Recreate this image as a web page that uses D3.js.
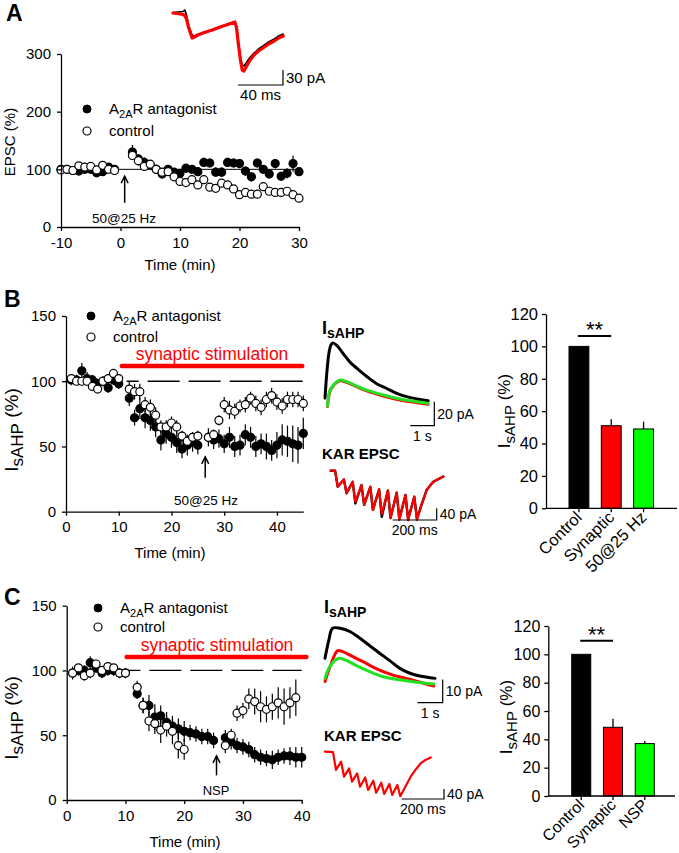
<!DOCTYPE html>
<html><head><meta charset="utf-8">
<script src="https://cdn.jsdelivr.net/npm/d3@7"></script>
<style>
body{margin:0;background:#fff;}
svg{display:block;}
</style></head><body>
<svg id="fig" width="679" height="853"></svg>
<script>
// ---------------- DATA ----------------
// Panel A: EPSC time course (min, %)
const timeA = [-10,-9,-8,-7,-6,-5,-4,-3,-2,-1,2,3,4,5,6,7,8,9,10,11,12,13,14,15,16,17,18,19,20,21,22,23,24,25,26,27,28,29,30];
const ctrlA = [99,100,98,106,104,105,99,107,100,98,124,115,105,109,100,95,96,87,79,77,82,73,82,69,67,76,73,66,56,60,57,57,70,62,60,60,62,56,50];
const ctrlAerr = [3,3,3,4,3,3,4,4,3,3,8,9,7,6,7,7,6,5,6,6,6,6,5,6,5,6,6,5,5,5,5,5,5,5,5,5,5,5,4];
const a2aA = [100,100,98,97,100,100,94,96,104,100,130,118,112,108,100,92,100,95,93,102,100,96,112,111,95,95,112,111,110,97,87,111,100,92,110,88,93,110,96];
const a2aAerr = [4,4,4,4,4,4,4,4,5,4,12,8,9,8,8,8,7,6,7,7,6,7,8,8,8,8,8,8,8,8,8,8,7,8,8,8,9,14,7];
// Panel A inset trace (ms, pA)
const trA_t = [0,9,10.5,12,14,17,19,22,28,35,42,50,55,56.5,58,60,61.5,63,65,68,72,76,80,85,90,94,98];
const trA_red = [0,-3,-5,-12,-30,-50,-48,-44,-39,-34,-28,-22,-18,-30,-60,-95,-114,-116,-108,-96,-84,-76,-70,-62,-56,-50,-46];
const trA_blk = [1,3,6,-4,-26,-44,-46,-43,-38,-33,-27,-21,-17,-28,-56,-90,-104,-106,-100,-90,-80,-72,-66,-58,-52,-46,-42];

// Panel B: IsAHP time course
const timeB = [1,2,3,4,5,6,7,8,9,10,12,13,14,15,16,17,18,19,20,21,22,23,24,25,27,28,29,30,31,32,33,34,35,36,37,38,39,40,41,42,43,44,45];
const ctrlB = [102,100,100,100,96,94,100,102,106,102,94,92,92,82,80,74,65,65,68,65,58,54,57,58,57,59,70,82,78,77,81,82,87,83,80,86,89,84,81,86,86,86,83];
const ctrlBerr = [3,3,3,3,3,3,3,3,3,3,6,6,6,6,6,6,5,5,5,5,4,4,4,4,4,4,4,6,7,6,5,6,5,6,6,6,6,6,6,6,6,6,6];
const a2aB = [101,101,108,102,101,98,100,95,101,98,87,72,79,72,70,65,55,60,57,53,48,51,53,51,57,55,56,52,57,50,51,59,57,50,52,50,47,51,55,54,52,51,60];
const a2aBerr = [4,4,6,5,4,4,4,4,4,4,6,6,8,8,8,8,8,8,8,8,7,8,7,7,7,7,7,7,8,8,8,8,8,8,8,10,8,10,12,12,14,14,12];
// Panel B IsAHP traces (s, pA)
const sB_blk_t = [0,0.08,0.16,0.24,0.32,0.49,0.76,1.04,1.32,1.74,2.15,2.57,2.99,3.4,3.82,4.3];
const sB_blk = [3,25,40,47,49,47,40,33,28,21,15,11,7,4.2,2.2,0.8];
const sB_col_t = [0.1,0.15,0.21,0.32,0.42,0.63,0.9,1.32,1.74,2.43,3.13,3.82,4.3];
const sB_red = [-4,3.5,9,12.5,15,17.5,16.2,12.5,9,4.8,1.4,-0.8,-2.2];
const sB_grn = [-3.6,4,9.7,13,15.3,18,16.7,13,9.7,5.6,2.2,0,-1.4];
// Panel B KAR EPSC (ms, pA)
const kB_pkT = [20,60,100,140,180,220,260,300,340,380];
const kB_trT = [32,72,112,152,192,232,272,312,352,392];
const kB_pk = [0,-30,-38,-49,-55,-64,-68,-75,-83,-89];
const kB_tr = [-55,-77,-106,-117,-134,-148,-162,-168,-170,-168];
const kB_trBlk = [-55,-77,-112,-117,-134,-158,-162,-165,-166,-165];
const kB_tailT = [0,10,410,436,466,512];
const kB_tail = [0,0,-123,-66,-38,-20];

// Panel C: IsAHP time course
const ctrlC_t = [1,2,3,4,5,6,7,8,9,10,12,13,14,15,16,17,18,19,20,27,28,29,30,31,32,33,34,35,36,37,38,39];
const ctrlC = [98,102,96,98,105,100,103,102,98,98,87,73,61,59,54,57,53,42,39,42,50,67,69,78,76,72,70,72,75,72,75,79];
const ctrlCerr = [5,3,4,4,3,3,3,3,3,3,5,6,8,8,10,8,10,10,8,6,5,6,6,8,10,12,10,10,12,14,12,14];
const a2aC_t = [1,2,3,4,5,6,7,8,9,10,12,13,14,15,16,17,18,19,20,21,22,23,24,25,27,28,29,30,31,32,33,34,35,36,37,38,39,40];
const a2aC = [98,100,100,106,102,98,100,100,98,98,82,73,73,64,65,60,57,55,53,52,51,49,49,46,48,45,42,41,39,35,33,32,31,33,34,34,33,33];
const a2aCerr = [4,4,4,5,4,4,4,4,4,4,4,6,8,10,8,8,8,8,8,6,6,6,6,6,6,6,6,6,6,6,6,6,7,6,6,7,8,8];
// Panel C IsAHP traces (s, pA)
const sC_blk_t = [0,0.15,0.3,0.6,1.0,1.38,1.78,2.17,2.57,2.96,3.36,3.75,4.35];
const sC_blk = [9.3,17,22.2,22.2,20.7,17.9,14.6,11.4,8.2,5,2.9,1.7,0.7];
const sC_red_t = [0,0.2,0.5,0.7,1.1,1.5,2.0,2.6,3.2,3.8,4.3];
const sC_red = [-0.7,5.7,12.6,12.2,10,7.9,5,2.4,0.7,-1.1,-2.6];
const sC_grn_t = [0,0.2,0.55,0.8,1.2,1.7,2.3,3.0,3.6,4.3];
const sC_grn = [0.7,6,9.3,8.6,6.4,3.9,1.4,0,-1,-1.7];
// Panel C KAR EPSC (ms, pA)
const kC_pkT = [38,76,114,152,190,228,266,304,342];
const kC_trT = [52,90,128,166,204,242,280,318,356];
const kC_pk = [-2,-40,-67,-87,-103,-116,-124,-129,-133];
const kC_tr = [-73,-100,-120,-140,-153,-164,-169,-173,-178];
const kC_tailT = [0,20,380,405,430,452,475,500];
const kC_tail = [0,-1,-140,-100,-70,-47,-33,-23];

// Bar charts
const catsB = ["Control","Synaptic","50@25 Hz"];
const valsB = [100,51,49];
const errB = [0,4,4.5];
const catsC = ["Control","Synaptic","NSP"];
const valsC = [100,48.5,37];
const errC = [0,6,1.8];
const barColors = ["#000000","#ff0000","#00ff00"];

// tick values
const ticksA_x = [-10,0,10,20,30], ticksA_y = [0,100,200,300];
const ticksBC_x = [0,10,20,30,40], ticksBC_y = [0,50,100,150];
const ticksBar_y = [0,20,40,60,80,100,120];

// ---------------- DRAWING ----------------
const FONT = "Arial, 'Liberation Sans', Helvetica, sans-serif";
const svg = d3.select("#fig").attr("font-family", FONT);
const fmt = d => String(d);

function styleAxis(g, fs) {
  g.attr("font-family", FONT).attr("font-size", fs);
  g.selectAll("path.domain").attr("stroke", "#000").attr("stroke-width", 1.3);
  g.selectAll(".tick line").attr("stroke", "#000").attr("stroke-width", 1.3);
  g.selectAll(".tick text").attr("fill", "#000");
}
function axes(x, y, xt, yt, fs) {
  const gy = svg.append("g").attr("transform", `translate(${x.range()[0]},0)`)
    .call(d3.axisLeft(y).tickValues(yt).tickFormat(fmt).tickSize(4).tickPadding(6).tickSizeOuter(0));
  styleAxis(gy, fs);
  const gx = svg.append("g").attr("transform", `translate(0,${y.range()[0]})`)
    .call(d3.axisBottom(x).tickValues(xt).tickFormat(fmt).tickSize(4).tickPadding(6).tickSizeOuter(0));
  styleAxis(gx, fs);
}
function series(x, y, t, v, e) { return t.map((ti, i) => ({t: ti, v: v[i], e: e[i]})); }
function errBars(x, y, d) {
  svg.append("g").selectAll("line").data(d).join("line")
    .attr("x1", p => x(p.t)).attr("x2", p => x(p.t))
    .attr("y1", p => y(p.v - p.e)).attr("y2", p => y(p.v + p.e))
    .attr("stroke", "#000").attr("stroke-width", 1.2);
}
function dots(x, y, d, filled) {
  svg.append("g").selectAll("circle").data(d).join("circle")
    .attr("cx", p => x(p.t)).attr("cy", p => y(p.v)).attr("r", 4)
    .attr("fill", filled ? "#000" : "#fff").attr("stroke", "#000").attr("stroke-width", 1.2);
}
function legend(x0, y0, gap) {
  svg.append("circle").attr("cx", x0).attr("cy", y0).attr("r", 4).attr("fill", "#000").attr("stroke", "#000");
  svg.append("circle").attr("cx", x0).attr("cy", y0 + gap).attr("r", 4).attr("fill", "#fff").attr("stroke", "#000").attr("stroke-width", 1.2);
  const t = svg.append("text").attr("x", x0 + 22).attr("y", y0 + 5).attr("font-size", 15);
  t.append("tspan").text("A");
  t.append("tspan").attr("font-size", 11).attr("dy", 4).text("2A");
  t.append("tspan").attr("dy", -4).text("R antagonist");
  svg.append("text").attr("x", x0 + 22).attr("y", y0 + gap + 5).attr("font-size", 15).text("control");
}
function yLabelI(cx, cy, fsMain, fsSub) {
  const t = svg.append("text").attr("transform", `translate(${cx},${cy}) rotate(-90)`)
    .attr("text-anchor", "middle").attr("font-size", fsMain);
  t.append("tspan").text("I");
  t.append("tspan").attr("font-size", fsSub).attr("dy", fsSub * 0.3).text("sAHP");
  t.append("tspan").attr("dy", -fsSub * 0.3).text(" (%)");
}
function arrow(x, y1, y2) {
  svg.append("line").attr("x1", x).attr("x2", x).attr("y1", y1).attr("y2", y2).attr("stroke", "#000").attr("stroke-width", 1.5);
  svg.append("path").attr("d", `M${x-3.5},${y2+7}L${x},${y2}L${x+3.5},${y2+7}`).attr("fill", "none").attr("stroke", "#000").attr("stroke-width", 1.5);
}
function trace(xs, ys, t, v, color, w) {
  const line = d3.line().x((d, i) => xs(t[i])).y((d, i) => ys(v[i]));
  svg.append("path").attr("d", line(v)).attr("fill", "none").attr("stroke", color)
    .attr("stroke-width", w).attr("stroke-linejoin", "round").attr("stroke-linecap", "round");
}
function smooth(xs, ys, t, v, color, w) {
  const line = d3.line().x((d, i) => xs(t[i])).y((d, i) => ys(v[i])).curve(d3.curveCatmullRom);
  svg.append("path").attr("d", line(v)).attr("fill", "none").attr("stroke", color)
    .attr("stroke-width", w).attr("stroke-linejoin", "round").attr("stroke-linecap", "round");
}
function scaleBar(xs, ys, tLen, vLen, xEnd, yEnd, tLabel, vLabel, fs) {
  const w = Math.abs(xs(tLen) - xs(0)), h = Math.abs(ys(vLen) - ys(0));
  svg.append("path").attr("d", `M${xEnd - w},${yEnd}H${xEnd}V${yEnd - h}`).attr("fill", "none").attr("stroke", "#000").attr("stroke-width", 1.2);
  svg.append("text").attr("x", xEnd + 3).attr("y", yEnd - h / 2 + 5).attr("font-size", fs).text(vLabel);
  svg.append("text").attr("x", xEnd - w / 2).attr("y", yEnd + 15).attr("text-anchor", "middle").attr("font-size", fs).text(tLabel);
}
function kar(pkT, pk, trT, tr, tailT, tail) {
  const t = [], v = [];
  t.push(tailT[0], tailT[1]); v.push(tail[0], tail[1]);
  pkT.forEach((p, i) => { t.push(p, trT[i]); v.push(pk[i], tr[i]); });
  for (let i = 2; i < tailT.length; i++) { t.push(tailT[i]); v.push(tail[i]); }
  return [t, v];
}
function panelLetter(x, y, s) {
  svg.append("text").attr("x", x).attr("y", y).attr("font-size", 23).attr("font-weight", "bold").text(s);
}
function dashed(x, y, from, to) {
  svg.append("line").attr("x1", x(from)).attr("x2", x(to)).attr("y1", y(100)).attr("y2", y(100))
    .attr("stroke", "#000").attr("stroke-width", 1.3).attr("stroke-dasharray", "32,9").attr("stroke-dashoffset", 20);
}
function bars(cats, vals, errs, xr, yr, fsTick, sig) {
  const x = d3.scaleBand().domain(cats).range(xr.band).paddingInner(xr.pad).paddingOuter(0);
  const y = d3.scaleLinear().domain([0, 120]).range(yr);
  svg.append("g").selectAll("rect").data(cats).join("rect")
    .attr("x", c => x(c)).attr("width", x.bandwidth())
    .attr("y", (c, i) => y(vals[i])).attr("height", (c, i) => y(0) - y(vals[i]))
    .attr("fill", (c, i) => barColors[i]).attr("stroke", "#000").attr("stroke-width", 1);
  svg.append("g").selectAll("line").data(cats).join("line")
    .attr("x1", c => x(c) + x.bandwidth() / 2).attr("x2", c => x(c) + x.bandwidth() / 2)
    .attr("y1", (c, i) => y(vals[i])).attr("y2", (c, i) => y(vals[i] + errs[i]))
    .attr("stroke", "#000").attr("stroke-width", 1.3);
  const gy = svg.append("g").attr("transform", `translate(${xr.axis[0]},0)`)
    .call(d3.axisLeft(y).tickValues(ticksBar_y).tickFormat(fmt).tickSize(4).tickPadding(4).tickSizeOuter(0));
  styleAxis(gy, fsTick);
  svg.append("line").attr("x1", xr.axis[0]).attr("x2", xr.axis[1]).attr("y1", y(0)).attr("y2", y(0)).attr("stroke", "#000").attr("stroke-width", 1.3);
  cats.forEach((c, i) => {
    const cx = x(c) + x.bandwidth() / 2;
    svg.append("line").attr("x1", cx).attr("x2", cx).attr("y1", y(0)).attr("y2", y(0) + 4).attr("stroke", "#000").attr("stroke-width", 1.3);
    svg.append("text").attr("transform", `translate(${cx + 4},${y(0) + 10}) rotate(-45)`)
      .attr("text-anchor", "end").attr("font-size", fsTick).text(c);
  });
  const x1 = x(cats[0]) + x.bandwidth() / 2 - 1, x2 = x(cats[1]) + x.bandwidth() / 2;
  svg.append("line").attr("x1", x1).attr("x2", x2).attr("y1", y(sig)).attr("y2", y(sig)).attr("stroke", "#000").attr("stroke-width", 2);
  svg.append("text").attr("x", (x1 + x2) / 2).attr("y", y(sig) + 1).attr("text-anchor", "middle").attr("font-size", 22).text("**");
}

// ---------- Panel A ----------
panelLetter(6, 21, "A");
const xA = d3.scaleLinear().domain([-10, 30]).range([61, 299]);
const yA = d3.scaleLinear().domain([0, 300]).range([227, 54]);
svg.append("line").attr("x1", xA(-1)).attr("x2", xA(30)).attr("y1", yA(100)).attr("y2", yA(100)).attr("stroke", "#000").attr("stroke-width", 1);
const dA1 = series(xA, yA, timeA, a2aA, a2aAerr), dA2 = series(xA, yA, timeA, ctrlA, ctrlAerr);
errBars(xA, yA, dA1); errBars(xA, yA, dA2);
dots(xA, yA, dA1, true); dots(xA, yA, dA2, false);
axes(xA, yA, ticksA_x, ticksA_y, 15);
svg.append("text").attr("transform", "translate(15,142) rotate(-90)").attr("text-anchor", "middle").attr("font-size", 15).text("EPSC (%)");
svg.append("text").attr("x", 180).attr("y", 270).attr("text-anchor", "middle").attr("font-size", 15).text("Time (min)");
legend(87, 109, 22);
arrow(xA(0.7), yA(42), yA(88));
svg.append("text").attr("x", 124).attr("y", 223).attr("text-anchor", "middle").attr("font-size", 13.5).text("50@25 Hz");
// inset trace A
const txA = d3.scaleLinear().domain([0, 40]).range([173, 218]);
const tyA = d3.scaleLinear().domain([0, -30]).range([13, 28]);
trace(txA, tyA, trA_t, trA_blk, "#000", 1.6);
trace(txA, tyA, trA_t, trA_red, "#ff0000", 3.2);
scaleBar(txA, tyA, 40, 30, 283, 85, "40 ms", "30 pA", 15);

// ---------- Panel B ----------
panelLetter(4, 307, "B");
const xB = d3.scaleLinear().domain([0, 45]).range([66, 303.3]);
const yB = d3.scaleLinear().domain([0, 150]).range([511.7, 316]);
dashed(xB, yB, 11.5, 45);
const dB1 = series(xB, yB, timeB, a2aB, a2aBerr), dB2 = series(xB, yB, timeB, ctrlB, ctrlBerr);
errBars(xB, yB, dB1); errBars(xB, yB, dB2);
dots(xB, yB, dB1, true); dots(xB, yB, dB2, false);
axes(xB, yB, ticksBC_x, ticksBC_y, 15);
yLabelI(18, 430, 19, 17);
svg.append("text").attr("x", 170).attr("y", 558).attr("text-anchor", "middle").attr("font-size", 15).text("Time (min)");
legend(91, 316, 21);
svg.append("line").attr("x1", xB(10.6)).attr("x2", xB(44.8)).attr("y1", 366).attr("y2", 366).attr("stroke", "#ff0000").attr("stroke-width", 4.5).attr("stroke-linecap", "round");
svg.append("text").attr("x", 212).attr("y", 360).attr("text-anchor", "middle").attr("font-size", 17.5).attr("fill", "#ff0000").text("synaptic stimulation");
arrow(xB(26.4), yB(26), yB(42));
svg.append("text").attr("x", 206).attr("y", 505).attr("text-anchor", "middle").attr("font-size", 13.5).text("50@25 Hz");
// IsAHP inset B
{
  const t = svg.append("text").attr("x", 322).attr("y", 334).attr("font-weight", "bold").attr("font-size", 18);
  t.append("tspan").text("I");
  t.append("tspan").attr("font-size", 14).attr("dy", 4).text("sAHP");
}
const txBi = d3.scaleLinear().domain([0, 1]).range([325, 349]);
const tyBi = d3.scaleLinear().domain([0, 20]).range([401.7, 377.7]);
smooth(txBi, tyBi, sB_blk_t, sB_blk, "#000", 3);
smooth(txBi, tyBi, sB_col_t, sB_red, "#ff0000", 3);
smooth(txBi, tyBi, sB_col_t, sB_grn, "#22e022", 3);
scaleBar(txBi, tyBi, 1, 20, 434.3, 425.7, "1 s", "20 pA", 14);
// KAR inset B
svg.append("text").attr("x", 322).attr("y", 459).attr("font-weight", "bold").attr("font-size", 15).text("KAR EPSC");
const txBk = d3.scaleLinear().domain([0, 200]).range([330.7, 374.7]);
const tyBk = d3.scaleLinear().domain([0, -40]).range([470.7, 482.4]);
{
  const [tb, vb] = kar(kB_pkT, kB_pk, kB_trT, kB_trBlk, kB_tailT, kB_tail);
  trace(txBk, tyBk, tb, vb, "#000", 2.4);
  const [tr, vr] = kar(kB_pkT, kB_pk, kB_trT, kB_tr, kB_tailT, kB_tail);
  trace(txBk, tyBk, tr, vr, "#ff0000", 2.2);
}
scaleBar(txBk, tyBk, 200, 40, 436.7, 520, "200 ms", "40 pA", 14);
// bars B
bars(catsB, valsB, errB, {band: [569, 653.5], pad: 0.385, axis: [546, 677]}, [508.3, 314], 16.5, 106.4);
yLabelI(510, 411, 17, 15);

// ---------- Panel C ----------
panelLetter(4, 605, "C");
const xC = d3.scaleLinear().domain([0, 40]).range([66.7, 301.7]);
const yC = d3.scaleLinear().domain([0, 150]).range([800, 605.7]);
dashed(xC, yC, 10.5, 40);
const dC1 = series(xC, yC, a2aC_t, a2aC, a2aCerr), dC2 = series(xC, yC, ctrlC_t, ctrlC, ctrlCerr);
errBars(xC, yC, dC1); errBars(xC, yC, dC2);
dots(xC, yC, dC1, true); dots(xC, yC, dC2, false);
axes(xC, yC, ticksBC_x, ticksBC_y, 15);
yLabelI(18, 718, 19, 17);
svg.append("text").attr("x", 185).attr("y", 847).attr("text-anchor", "middle").attr("font-size", 15).text("Time (min)");
legend(98, 608, 19);
svg.append("line").attr("x1", xC(10.2)).attr("x2", xC(40.8)).attr("y1", 657).attr("y2", 657).attr("stroke", "#ff0000").attr("stroke-width", 4.5).attr("stroke-linecap", "round");
svg.append("text").attr("x", 217).attr("y", 651).attr("text-anchor", "middle").attr("font-size", 17.5).attr("fill", "#ff0000").text("synaptic stimulation");
arrow(xC(25.5), yC(19), yC(34));
svg.append("text").attr("x", 216).attr("y", 795).attr("text-anchor", "middle").attr("font-size", 13).text("NSP");
{
  const t = svg.append("text").attr("x", 324).attr("y", 613).attr("font-weight", "bold").attr("font-size", 18);
  t.append("tspan").text("I");
  t.append("tspan").attr("font-size", 14).attr("dy", 4).text("sAHP");
}
const txCi = d3.scaleLinear().domain([0, 1]).range([325, 350.3]);
const tyCi = d3.scaleLinear().domain([0, 10]).range([680, 656.7]);
smooth(txCi, tyCi, sC_blk_t, sC_blk, "#000", 3);
smooth(txCi, tyCi, sC_red_t, sC_red, "#ff0000", 3);
smooth(txCi, tyCi, sC_grn_t, sC_grn, "#22e022", 3);
scaleBar(txCi, tyCi, 1, 10, 442.7, 702.7, "1 s", "10 pA", 14);
svg.append("text").attr("x", 324).attr("y", 741).attr("font-weight", "bold").attr("font-size", 15).text("KAR EPSC");
const txCk = d3.scaleLinear().domain([0, 200]).range([325, 367.3]);
const tyCk = d3.scaleLinear().domain([0, -40]).range([751.7, 761.7]);
{
  const [tc, vc] = kar(kC_pkT, kC_pk, kC_trT, kC_tr, kC_tailT, kC_tail);
  trace(txCk, tyCk, tc, vc, "#ff0000", 2.2);
}
scaleBar(txCk, tyCk, 200, 40, 444, 799, "200 ms", "40 pA", 14);
bars(catsC, valsC, errC, {band: [571.7, 654.3], pad: 0.4, axis: [548.3, 675]}, [796, 626], 16, 109.6);
yLabelI(512, 717, 17, 15);
</script></body></html>
